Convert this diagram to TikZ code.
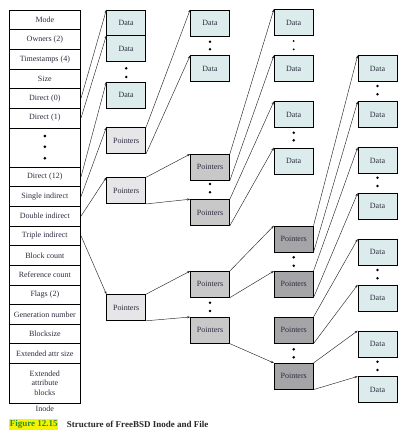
\documentclass[tikz,border=0pt]{standalone}
\usepackage{fontspec}
\setmainfont{Liberation Serif}
\usetikzlibrary{arrows.meta,shadows}
\definecolor{txt}{HTML}{2B2B40}
\definecolor{datafill}{HTML}{DCECEC}
\definecolor{p1fill}{HTML}{E6E6E8}
\definecolor{p2fill}{HTML}{C8C8C8}
\definecolor{p3fill}{HTML}{A5A5A8}
\definecolor{capgreen}{HTML}{2E8B2E}
\definecolor{capyellow}{HTML}{F4F400}
\begin{document}
\begin{tikzpicture}[x=1pt,y=-1pt,
  every node/.style={font=\fontsize{8}{9.5}\selectfont, text=txt},
  row/.style={draw=black, line width=0.6pt, minimum width=71.7pt, minimum height=19.63pt, inner sep=0pt, align=center},
  blk/.style={draw=black, line width=0.6pt, minimum width=39pt, minimum height=26pt, inner sep=0pt,
    general shadow={fill=black!70, shadow xshift=0.7pt, shadow yshift=-0.7pt}},
  datab/.style={blk, fill=datafill},
  ptr1/.style={blk, fill=p1fill},
  ptr2/.style={blk, fill=p2fill},
  ptr3/.style={blk, fill=p3fill},
  arr/.style={-{Stealth[length=3.2pt,width=2.2pt]}, line width=0.45pt, black!85},
  dot/.style={black}
]
\useasboundingbox (0,0) rectangle (404,432);

% ---- Inode table ----
\node[row] (mode) at (44.85,19.8) {Mode};
\node[row] (own) at (44.85,39.45) {Owners (2)};
\node[row] (ts) at (44.85,59.1) {Timestamps (4)};
\node[row] (size) at (44.85,78.7) {Size};
\node[row] (d0) at (44.85,98.35) {Direct (0)};
\node[row] (d1) at (44.85,118.0) {Direct (1)};
\node[row, minimum height=39.26pt] (dd) at (44.85,147.45) {};
\node[row] (d12) at (44.85,176.9) {Direct (12)};
\node[row] (si) at (44.85,196.5) {Single indirect};
\node[row] (di) at (44.85,216.15) {Double indirect};
\node[row] (ti) at (44.85,235.8) {Triple indirect};
\node[row] (bc) at (44.85,255.4) {Block count};
\node[row] (rc) at (44.85,275.05) {Reference count};
\node[row] (fl) at (44.85,294.7) {Flags (2)};
\node[row] (gn) at (44.85,314.3) {Generation number};
\node[row] (bs) at (44.85,333.95) {Blocksize};
\node[row] (eas) at (44.85,353.6) {Extended attr size};
\node[row, minimum height=39.26pt] (eab) at (44.85,383.2) {Extended\\attribute\\blocks};
\node (inode) at (44.85,408.5) {Inode};
\fill[dot] (44.85,136) circle (1.5) (44.85,146.8) circle (1.5) (44.85,158.2) circle (1.5);

% ---- Column 1 ----
\node[datab, minimum height=25.7pt] (a1) at (126.2,22.85) {Data};
\node[datab] (a2) at (126.2,48.7) {Data};
\node[datab] (a3) at (126.2,95.0) {Data};
\fill[dot] (126.2,68.3) circle (1.4) (126.2,77) circle (1.4);
\node[ptr1] (ps) at (126.2,140.65) {Pointers};
\node[ptr1] (pd) at (126.2,190.65) {Pointers};
\node[ptr1] (pt) at (126.2,307.5) {Pointers};

% ---- Column 2 ----
\node[datab] (b1) at (210,22.85) {Data};
\node[datab] (b2) at (210,68.7) {Data};
\fill[dot] (210,41.7) circle (1.4) (210,49.3) circle (1.4);
\node[ptr2] (pda) at (210,167.35) {Pointers};
\node[ptr2] (pdb) at (210,212.5) {Pointers};
\fill[dot] (210,184) circle (1.4) (210,192.3) circle (1.4);
\node[ptr2] (pta) at (210,284.35) {Pointers};
\node[ptr2] (ptb) at (210,330.3) {Pointers};
\fill[dot] (210,302.7) circle (1.4) (210,311) circle (1.4);

% ---- Column 3 ----
\node[datab] (c1) at (293.7,22.5) {Data};
\node[datab] (c2) at (293.7,68.7) {Data};
\fill[dot] (293.7,41) circle (1.0) (293.7,49.3) circle (1.0);
\node[datab] (c3) at (293.7,114.7) {Data};
\node[datab] (c4) at (293.7,160.85) {Data};
\fill[dot] (293.7,132.7) circle (1.4) (293.7,140.3) circle (1.4);
\node[ptr3] (q1) at (293.7,239.0) {Pointers};
\node[ptr3] (q2) at (293.7,284.35) {Pointers};
\fill[dot] (293.7,257.3) circle (1.4) (293.7,265.7) circle (1.4);
\node[ptr3] (q3) at (293.7,330.3) {Pointers};
\node[ptr3] (q4) at (293.7,376.3) {Pointers};
\fill[dot] (293.7,349.3) circle (1.4) (293.7,357.3) circle (1.4);

% ---- Column 4 ----
\node[datab] (e1) at (377.5,68.7) {Data};
\node[datab] (e2) at (377.5,114.7) {Data};
\fill[dot] (377.5,86) circle (1.4) (377.5,94.3) circle (1.4);
\node[datab] (e3) at (377.5,160.7) {Data};
\node[datab] (e4) at (377.5,206.3) {Data};
\fill[dot] (377.5,177.7) circle (1.4) (377.5,186) circle (1.4);
\node[datab] (e5) at (377.5,252.3) {Data};
\node[datab] (e6) at (377.5,298.0) {Data};
\fill[dot] (377.5,270) circle (1.4) (377.5,278.3) circle (1.4);
\node[datab] (e7) at (377.5,344.0) {Data};
\node[datab] (e8) at (377.5,389.7) {Data};
\fill[dot] (377.5,361.7) circle (1.4) (377.5,370) circle (1.4);

% ---- Connectors ----
\draw[arr] (d0.east) -- (a1.north west);
\draw[arr] (d1.east) -- (a2.north west);
\draw[arr] (d12.east) -- (a3.north west);
\draw[arr] (si.east) -- (ps.north west);
\draw[arr] (di.east) -- (pd.north west);
\draw[arr] (ti.east) -- (pt.north west);

\draw[arr] (ps.north east) -- (b1.north west);
\draw[arr] (ps.south east) -- (b2.north west);
\draw[arr] (pd.north east) -- (pda.north west);
\draw[arr] (pd.south east) -- (pdb.north west);
\draw[arr] (pt.north east) -- (pta.north west);
\draw[arr] (pt.south east) -- (ptb.north west);

\draw[arr] (pda.north east) -- (c1.north west);
\draw[arr] (pda.south east) -- (c2.north west);
\draw[arr] (pdb.north east) -- (c3.north west);
\draw[arr] (pdb.south east) -- (c4.north west);
\draw[arr] (pta.north east) -- (q1.north west);
\draw[arr] (pta.south east) -- (q2.north west);
\draw[arr] (ptb.south east) -- (q4.north west);

\draw[arr] (q1.north east) -- (e1.north west);
\draw[arr] (q1.south east) -- (e2.north west);
\draw[arr] (q2.north east) -- (e3.north west);
\draw[arr] (q2.south east) -- (e4.north west);
\draw[arr] (q3.north east) -- (e5.north west);
\draw[arr] (q3.south east) -- (e6.north west);
\draw[arr] (q4.north east) -- (e7.north west);
\draw[arr] (q4.south east) -- (e8.north west);

% ---- Caption ----
\node[fill=capyellow, text=capgreen, inner xsep=0.6pt, inner ysep=1.2pt, font=\fontsize{9}{10}\selectfont\bfseries, anchor=west] (fig) at (9,424.2) {Figure 12.15};
\node[anchor=west, text=black!85, inner sep=0pt, font=\fontsize{9}{10}\selectfont\bfseries] (cap) at (66.7,424.2) {Structure of FreeBSD Inode and File};
\end{tikzpicture}
\end{document}
